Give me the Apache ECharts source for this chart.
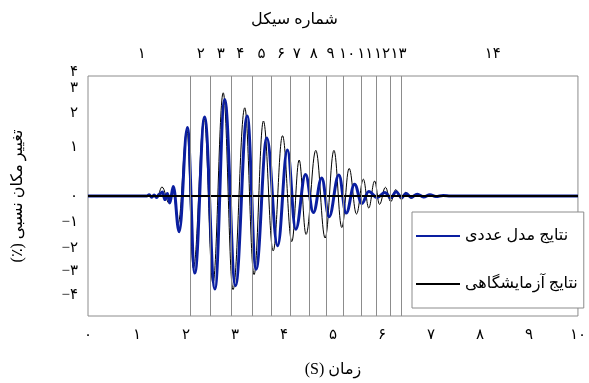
<!DOCTYPE html>
<html><head><meta charset="utf-8">
<script src="https://cdn.jsdelivr.net/npm/echarts@6/dist/echarts.min.js"></script>
<style>html,body{margin:0;padding:0;background:#fff}#c{width:589px;height:383px}</style>
</head><body><div id="c"></div>
<script>
// ---- data ----
const seriesNames = ['نتایج مدل عددی', 'نتایج آزمایشگاهی'];
const numTime  = [0, 1.2, 1.25, 1.3, 1.35, 1.4, 1.45, 1.52, 1.57, 1.62, 1.67, 1.74, 1.86, 2.03, 2.18, 2.38, 2.59, 2.79, 3.01, 3.25, 3.43, 3.65, 3.87, 4.07, 4.24, 4.44, 4.60, 4.77, 4.92, 5.12, 5.27, 5.44, 5.59, 5.73, 5.90, 6.06, 6.18, 6.29, 6.40, 6.49, 6.60, 6.72, 6.85, 6.98, 7.1, 7.25, 7.4, 10];
const numValue = [0, 0, 0.04, -0.04, 0.03, -0.05, 0.05, 0.13, -0.12, 0.08, -0.23, 0.32, -1.19, 2.28, -2.57, 2.63, -3.10, 3.22, -2.99, 2.67, -2.44, 1.93, -1.66, 1.53, -1.11, 0.72, -0.55, 0.60, -0.69, 0.70, -0.57, 0.39, -0.25, 0.15, -0.05, 0.12, -0.06, 0.14, -0.05, 0.08, -0.04, 0.06, -0.03, 0.04, -0.02, 0.02, 0, 0];
const expTime  = [0, 1.3, 1.42, 1.51, 1.66, 1.74, 1.84, 2.02, 2.15, 2.37, 2.55, 2.76, 2.96, 3.20, 3.39, 3.58, 3.78, 3.97, 4.16, 4.31, 4.45, 4.65, 4.84, 5.02, 5.18, 5.33, 5.48, 5.62, 5.73, 5.85, 5.95, 6.07, 6.18, 6.28, 6.40, 6.48, 6.60, 6.72, 6.85, 6.95, 7.1, 7.3, 10];
const expValue = [0, 0, 0.02, 0.30, -0.25, 0.15, -0.91, 2.20, -2.40, 2.58, -2.90, 3.44, -3.12, 2.94, -2.62, 2.50, -1.83, 2.01, -1.52, 1.20, -1.28, 1.52, -1.40, 1.52, -1.05, 0.92, -0.60, 0.56, -0.40, 0.50, -0.28, 0.29, -0.19, 0.21, -0.12, 0.12, -0.08, 0.08, -0.05, 0.04, -0.02, 0, 0];
const cycleBounds = [2.09, 2.5, 2.92, 3.35, 3.74, 4.13, 4.52, 4.87, 5.2, 5.57, 5.88, 6.17, 6.4];
const cycleLabelPos = [1.1, 2.3, 2.71, 3.11, 3.54, 3.94, 4.26, 4.61, 4.95, 5.29, 5.66, 6.0, 6.34, 8.26];
const cycleLabels = ['۱','۲','۳','۴','۵','۶','۷','۸','۹','۱۰','۱۱','۱۲','۱۳','۱۴'];
const xTickLabels = ['۰','۱','۲','۳','۴','۵','۶','۷','۸','۹','۱۰'];
const yTickPos = [4, 3.6, 2.78, 1.62, 0, -0.86, -1.72, -2.51, -3.31];
const yTickLabels = ['۴','۳','۲','۱','۰','−۱','−۲','−۳','−۴'];
const xTitle = 'زمان (S)';
const yTitle = 'تغییر مکان نسبی (٪)';
const topTitle = 'شماره سیکل';

// ---- chart ----
const FONT = "'Liberation Serif', 'DejaVu Sans', serif";
const RTL = s => '\u202B' + s + '\u202C';
const zip = (a, b) => a.map((t, i) => [t, b[i]]);
const nearestIdx = (arr, v) => { let k = 0; arr.forEach((p, i) => { if (Math.abs(p - v) < Math.abs(arr[k] - v)) k = i; }); return k; };

const chart = echarts.init(document.getElementById('c'), null, {renderer: 'canvas'});
chart.setOption({
  animation: false,
  backgroundColor: '#fff',
  title: { text: RTL(topTitle), left: 'center', top: 7, textStyle: { fontFamily: FONT, fontSize: 16, fontWeight: 'normal', color: '#000' } },
  grid: { left: 88, right: 6, top: 76, bottom: 65, show: true, borderColor: '#8c8c8c', borderWidth: 1 },
  legend: {
    data: seriesNames, orient: 'vertical', left: 412, top: 212,
    padding: [16, 6, 16, 3], itemGap: 32, itemWidth: 44, itemHeight: 14,
    borderColor: '#8c8c8c', borderWidth: 1, borderRadius: 0, backgroundColor: '#fff',
    itemStyle: { color: 'rgba(0,0,0,0)', borderWidth: 0, opacity: 0 },
    textStyle: { fontFamily: FONT, fontSize: 16, color: '#000', width: 110, align: 'right' }
  },
  xAxis: [
    { type: 'value', min: 0, max: 10, interval: 1, position: 'bottom',
      name: RTL(xTitle), nameLocation: 'middle', nameGap: 46,
      nameTextStyle: { fontFamily: FONT, fontSize: 16, color: '#000' },
      axisLine: { show: false }, axisTick: { show: false }, splitLine: { show: false },
      axisLabel: { margin: 12, fontFamily: FONT, fontSize: 15, color: '#000',
        formatter: v => xTickLabels[Math.round(v)] } },
    { type: 'value', min: 0, max: 10, position: 'top',
      axisLine: { show: false }, axisTick: { show: false }, splitLine: { show: false },
      axisLabel: { customValues: cycleLabelPos, margin: 14, fontFamily: FONT, fontSize: 15, color: '#000',
        formatter: v => cycleLabels[nearestIdx(cycleLabelPos, v)] } }
  ],
  yAxis: {
    type: 'value', min: -4, max: 4,
    name: RTL(yTitle), nameLocation: 'middle', nameGap: 62, nameRotate: 90,
    nameTextStyle: { fontFamily: FONT, fontSize: 16, color: '#000' },
    axisLine: { show: false }, axisTick: { show: false }, splitLine: { show: false },
    axisLabel: { customValues: yTickPos, margin: 10, fontFamily: FONT, fontSize: 15, color: '#000',
      formatter: v => { const i = nearestIdx(yTickPos, v); return i === 0 ? '{up|' + yTickLabels[i] + '}' : yTickLabels[i]; },
      rich: { up: { fontFamily: FONT, fontSize: 15, color: '#000', padding: [0, 0, 8, 0] } } }
  },
  series: [
    { name: seriesNames[1], type: 'line', data: zip(expTime, expValue), smooth: 0.4, smoothMonotone: 'x', symbol: 'none', z: 2,
      lineStyle: { color: '#000', width: 1 }, itemStyle: { color: '#000' },
      markLine: { silent: true, symbol: 'none', label: { show: false },
        data: [{ yAxis: 0, lineStyle: { color: '#000', width: 2, type: 'solid' } }]
          .concat(cycleBounds.map(t => ({ xAxis: t, lineStyle: { color: '#8c8c8c', width: 1, type: 'solid' } }))) } },
    { name: seriesNames[0], type: 'line', data: zip(numTime, numValue), smooth: 0.4, smoothMonotone: 'x', symbol: 'none', z: 3,
      lineStyle: { color: '#0a1ea0', width: 3 }, itemStyle: { color: '#0a1ea0' } }
  ]
});
</script></body></html>
